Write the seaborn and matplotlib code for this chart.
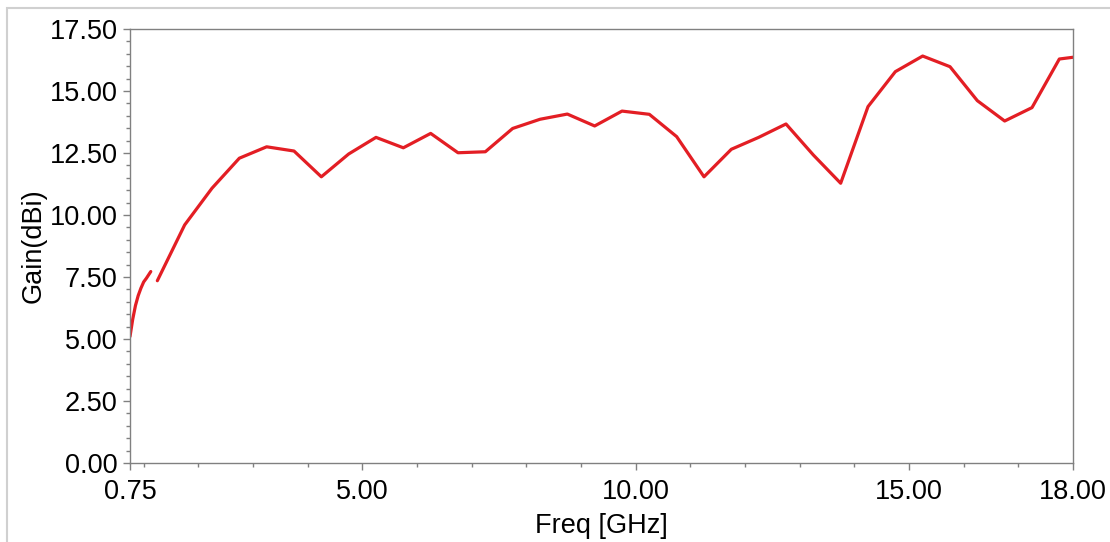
import matplotlib
matplotlib.use("Agg")
import matplotlib.pyplot as plt
import matplotlib.ticker as mticker
from matplotlib.patches import Rectangle
import pandas as pd
import seaborn as sns

# low band sweep (short trace below 1.2 GHz)
freq_low = [0.75, 0.80, 0.85, 0.90, 0.95, 1.00, 1.05, 1.13]
gain_low = [5.1, 5.8, 6.35, 6.75, 7.05, 7.3, 7.45, 7.72]

# main sweep
freq_main = [1.25, 1.75, 2.25, 2.75, 3.25, 3.75, 4.25, 4.75, 5.25, 5.75,
             6.25, 6.75, 7.25, 7.75, 8.25, 8.75, 9.25, 9.75, 10.25, 10.75,
             11.25, 11.75, 12.25, 12.75, 13.25, 13.75, 14.25, 14.75, 15.25, 15.75,
             16.25, 16.75, 17.25, 17.75, 18.0]
gain_main = [7.35, 9.60, 11.08, 12.29, 12.75, 12.58, 11.54, 12.46, 13.13, 12.71,
             13.29, 12.51, 12.55, 13.49, 13.86, 14.07, 13.59, 14.19, 14.06, 13.16,
             11.54, 12.65, 13.13, 13.67, 12.42, 11.28, 14.37, 15.78, 16.41, 15.98,
             14.61, 13.79, 14.33, 16.29, 16.36]

x_major = [0.75, 5, 10, 15, 18]
x_minor = list(range(1, 18))

sns.set_theme(style="ticks")
plt.rcParams["font.family"] = ["Liberation Sans", "DejaVu Sans"]

df = pd.concat([
    pd.DataFrame({"freq": freq_low, "gain": gain_low, "seg": 0}),
    pd.DataFrame({"freq": freq_main, "gain": gain_main, "seg": 1}),
])

fig = plt.figure(figsize=(11.1, 5.42), dpi=100)
ax = fig.add_axes([130 / 1110, 1 - 463 / 542, 943 / 1110, 434 / 542])

sns.lineplot(data=df, x="freq", y="gain", units="seg", estimator=None,
             color="#e31e24", linewidth=2.3, ax=ax)

ax.set_xlim(0.75, 18)
ax.set_ylim(0, 17.5)
ax.xaxis.set_major_locator(mticker.FixedLocator(x_major))
ax.xaxis.set_minor_locator(mticker.FixedLocator(x_minor))
ax.xaxis.set_major_formatter(mticker.FormatStrFormatter("%.2f"))
ax.yaxis.set_major_locator(mticker.MultipleLocator(2.5))
ax.yaxis.set_minor_locator(mticker.MultipleLocator(0.5))
ax.yaxis.set_major_formatter(mticker.FormatStrFormatter("%.2f"))

for s in ax.spines.values():
    s.set_visible(True)
    s.set_color("#808080")
    s.set_linewidth(1.0)

ax.tick_params(which="both", direction="out", color="#808080", width=1.0,
               bottom=True, left=True, top=False, right=False,
               labelsize=19.5, labelcolor="black")
ax.tick_params(which="major", length=5)
ax.tick_params(which="minor", length=3)
ax.tick_params(axis="x", which="major", pad=6.5)
ax.tick_params(axis="y", which="major", pad=4)

ax.set_xlabel("Freq [GHz]", fontsize=19.5, labelpad=5.5, color="black")
ax.set_ylabel("Gain(dBi)", fontsize=19.5, labelpad=2, color="black")

# light outer frame of the exported plot window
fig.patches.append(Rectangle((7 / 1110, -0.1), 1.2, 1.1 - 8 / 542,
                             transform=fig.transFigure, fill=False,
                             edgecolor="#d0d0d0", linewidth=1.5, clip_on=False))

fig.savefig("out.png", dpi=100)
